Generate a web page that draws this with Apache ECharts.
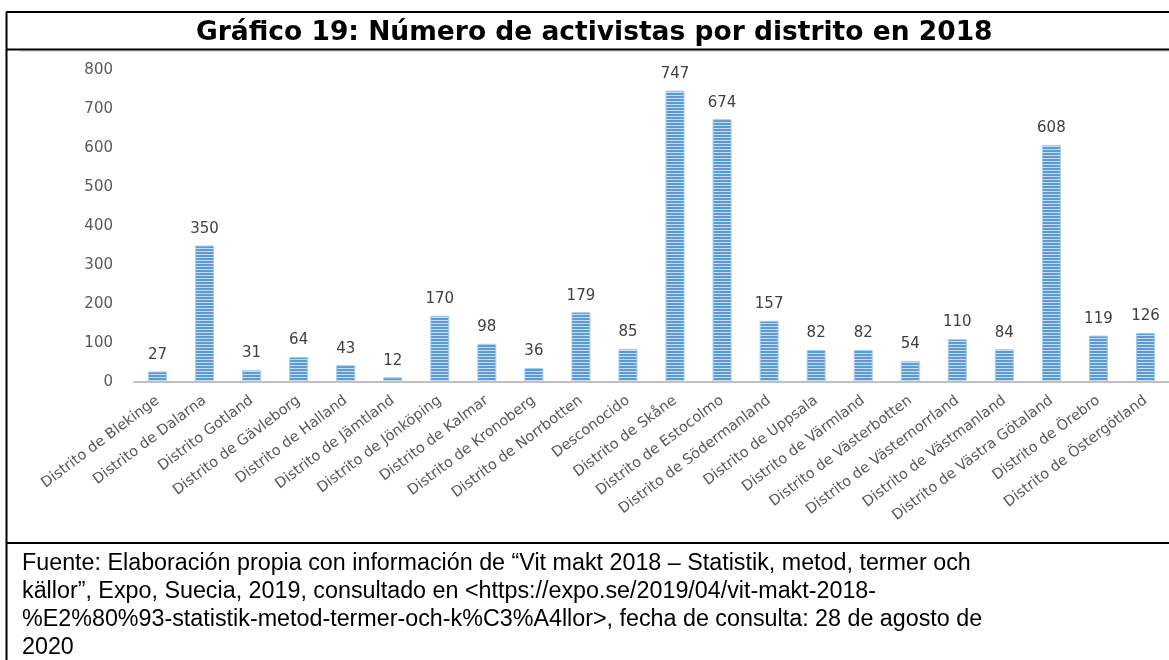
<!DOCTYPE html>
<html>
<head>
<meta charset="utf-8">
<script src="https://cdn.jsdelivr.net/npm/echarts@6/dist/echarts.min.js"></script>
<style>
  html, body { margin: 0; padding: 0; background: #fff; }
  #chart { width: 1169px; height: 660px; }
</style>
</head>
<body>
<div id="chart"></div>
<script>
// datos
const distritos = [
  "Distrito de Blekinge", "Distrito de Dalarna", "Distrito Gotland", "Distrito de Gävleborg",
  "Distrito de Halland", "Distrito de Jämtland", "Distrito de Jönköping", "Distrito de Kalmar",
  "Distrito de Kronoberg", "Distrito de Norrbotten", "Desconocido", "Distrito de Skåne",
  "Distrito de Estocolmo", "Distrito de Södermanland", "Distrito de Uppsala", "Distrito de Värmland",
  "Distrito de Västerbotten", "Distrito de Västernorrland", "Distrito de Västmanland",
  "Distrito de Västra Götaland", "Distrito de Örebro", "Distrito de Östergötland"
];
const activistas = [27, 350, 31, 64, 43, 12, 170, 98, 36, 179, 85, 747, 674, 157, 82, 82, 54, 110, 84, 608, 119, 126];

const titulo = "Gráfico 19: Número de activistas por distrito en 2018";
const fuente = [
  "Fuente: Elaboración propia con información de “Vit makt 2018 – Statistik, metod, termer och",
  "källor”, Expo, Suecia, 2019, consultado en <https://expo.se/2019/04/vit-makt-2018-",
  "%E2%80%93-statistik-metod-termer-och-k%C3%A4llor>, fecha de consulta: 28 de agosto de",
  "2020"
];

// relleno rayado de las barras
function stripePattern() {
  const c = document.createElement("canvas");
  c.width = 4;
  c.height = 3;
  const ctx = c.getContext("2d");
  ctx.fillStyle = "#5B9BD5";
  ctx.fillRect(0, 0, 4, 2);
  ctx.fillStyle = "#C9DDF2";
  ctx.fillRect(0, 2, 4, 1);
  return c;
}

const myChart = echarts.init(document.getElementById("chart"), null, { renderer: "canvas" });

const lineStyle = { stroke: "#000", lineWidth: 2 };
const footerText = fuente.map((t, i) => ({
  type: "text",
  left: 22,
  top: 552 + i * 28,
  style: { text: t, fill: "#000", font: '23.3px "Liberation Sans", Arial, sans-serif' }
}));

const option = {
  animation: false,
  title: {
    text: titulo,
    left: 191,
    top: 15,
    textStyle: { fontFamily: "DejaVu Sans", fontWeight: "bold", fontSize: 26.5, color: "#000" }
  },
  grid: { left: 134, top: 70, width: 1040, bottom: 278 },
  xAxis: {
    type: "category",
    data: distritos,
    axisLine: { lineStyle: { color: "#BFBFBF", width: 2 } },
    axisTick: { show: false },
    axisLabel: {
      interval: 0,
      rotate: 37,
      margin: 17,
      color: "#595959",
      fontFamily: "DejaVu Sans",
      fontSize: 14.5
    }
  },
  yAxis: {
    type: "value",
    min: 0,
    max: 800,
    interval: 100,
    splitLine: { show: false },
    axisLine: { show: false },
    axisLabel: { color: "#595959", fontFamily: "DejaVu Sans", fontSize: 15, margin: 21 }
  },
  series: [{
    type: "bar",
    data: activistas,
    barWidth: 19,
    itemStyle: {
      color: { image: stripePattern(), repeat: "repeat" },
      borderColor: "#A9CBEB",
      borderWidth: 1
    },
    label: {
      show: true,
      position: "top",
      distance: 9,
      color: "#404040",
      fontFamily: "DejaVu Sans",
      fontSize: 15
    }
  }],
  graphic: [
    { type: "line", shape: { x1: 6.5, y1: 12, x2: 6.5, y2: 660 }, style: lineStyle },
    { type: "line", shape: { x1: 6, y1: 12, x2: 1169, y2: 12 }, style: lineStyle },
    { type: "line", shape: { x1: 6, y1: 49.5, x2: 1169, y2: 49.5 }, style: lineStyle },
    { type: "line", shape: { x1: 20, y1: 51.5, x2: 1169, y2: 51.5 }, style: { stroke: "#D9D9D9", lineWidth: 1 } },
    { type: "line", shape: { x1: 6, y1: 543, x2: 1169, y2: 543 }, style: lineStyle }
  ].concat(footerText)
};

myChart.setOption(option);
window.addEventListener("resize", () => myChart.resize());
</script>
</body>
</html>
